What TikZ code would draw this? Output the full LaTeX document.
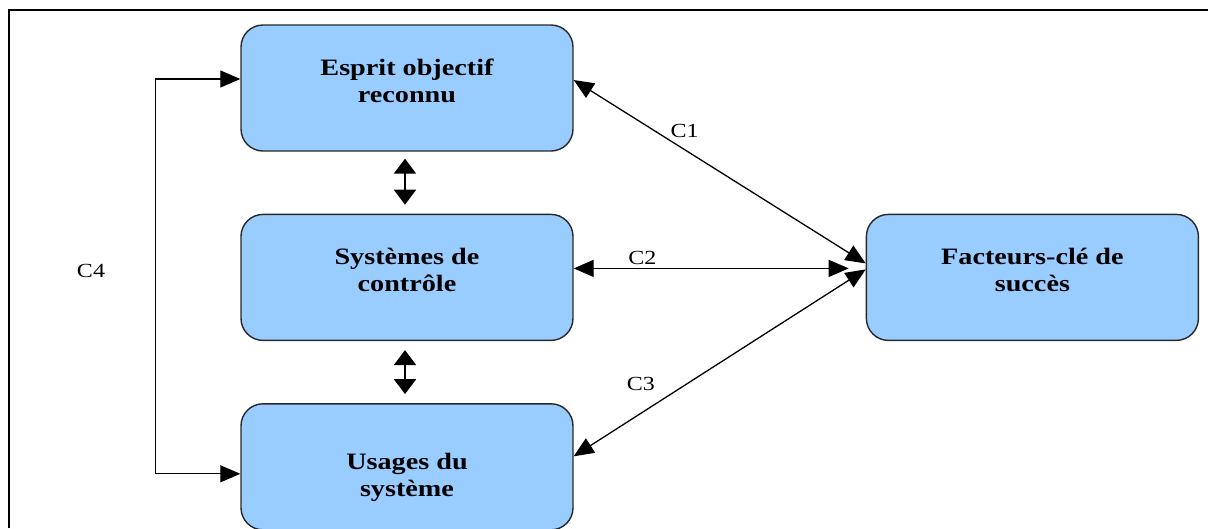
\documentclass[tikz,border=0pt]{standalone}
\usepackage{fontspec}
\setmainfont{Liberation Serif}[FakeStretch=1.2]
\definecolor{BoxBlue}{RGB}{153,204,255}
\definecolor{EdgeGray}{RGB}{40,40,40}
\usetikzlibrary{arrows.meta, positioning}

\begin{document}
\begin{tikzpicture}[x=1pt, y=-1pt,
    bloc/.style={draw=EdgeGray, line width=1.4pt, fill=BoxBlue, rounded corners=22pt,
                 minimum width=332pt, minimum height=126pt, align=center,
                 font=\fontsize{23.5}{27}\selectfont\bfseries,
                 text height=45pt, text depth=17pt},
    lien/.style={line width=1.3pt, >={Triangle[length=20pt,width=17pt]}, <->},
    vlien/.style={line width=2pt, >={Triangle[length=15pt,width=22pt]}, <->},
    etiq/.style={font=\fontsize{20}{22}\selectfont, inner sep=3pt}]
  \useasboundingbox (0,0) rectangle (1208,528);
  \draw[line width=2pt] (9,528) -- (9,10) -- (1208,10);

  \node[bloc] (esprit) at (407,88) {Esprit objectif\\reconnu};
  \node[bloc, below=62pt of esprit] (controle) {Systèmes de\\contrôle};
  \node[bloc, below=62pt of controle, text height=70pt, text depth=10pt] (usages) {Usages du\\système};
  \node[bloc, right=292pt of controle] (facteurs) {Facteurs-clé de\\succès};

  \draw[vlien, shorten <=7pt, shorten >=9pt] ([xshift=-2pt]esprit.south) -- ([xshift=-2pt]controle.north);
  \draw[vlien, shorten <=9pt, shorten >=9pt] ([xshift=-2pt]controle.south) -- ([xshift=-2pt]usages.north);

  \draw[lien] ([yshift=8pt]esprit.east) -- node[etiq, pos=.38, above=8pt] (c1) {C1} ([yshift=14pt]facteurs.west);
  \draw[lien] ([yshift=9pt]controle.east) -- node[etiq, pos=.25, above] (c2) {C2} ([xshift=-17pt, yshift=9pt]facteurs.west);
  \draw[lien] ([yshift=10.5pt]usages.east) -- node[etiq, pos=.23, above=19pt] (c3) {C3} ([yshift=8pt]facteurs.west);

  \draw[lien] ([yshift=9pt]esprit.west) -- ++(-85,0) |- ([yshift=-7pt]usages.west);
  \node[etiq] (c4) at (91,271) {C4};
\end{tikzpicture}
\end{document}
